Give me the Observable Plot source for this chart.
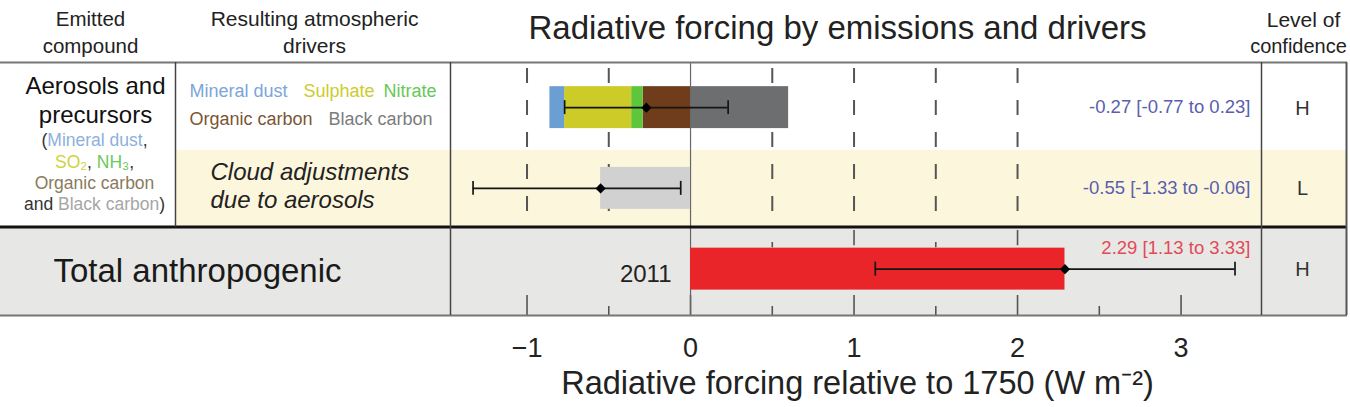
<!DOCTYPE html>
<html>
<head>
<meta charset="utf-8">
<script src="https://cdn.jsdelivr.net/npm/d3@7"></script>
<script src="https://cdn.jsdelivr.net/npm/@observablehq/plot@0.6"></script>
<style>
  html, body { margin: 0; padding: 0; background: #fff; overflow: hidden; }
  svg { display: block; }
</style>
</head>
<body>
<script>
// ---------------- data ----------------
const rows = ["Aerosols and precursors", "Cloud adjustments due to aerosols", "Total anthropogenic"];
const components = ["Mineral dust", "Sulphate", "Nitrate", "Organic carbon", "Black carbon"];
const componentValues = [-0.09, -0.41, -0.07, -0.29, 0.60];
const componentColors = ["#6b9fd4", "#cdcb27", "#5ec63a", "#6f3d1b", "#6d6e6f"];
const singleBarRows = [rows[1], rows[2]];
const singleBarValues = [-0.55, 2.29];
const singleBarColors = ["#d1d1d1", "#ea2529"];
const bestEstimates = [-0.27, -0.55, 2.29];
const lowerBounds = [-0.77, -1.33, 1.13];
const upperBounds = [0.23, -0.06, 3.33];
const confidenceLevels = ["H", "L", "H"];
const yearLabel = "2011";
const xTicks = [-1, 0, 1, 2, 3];
const minorTicks = [-0.5, 0.5, 1.5, 2.5];
const dashedTicks = [-1, -0.5, 0.5, 1, 1.5, 2];
const topMajorTicks = [1, 2];
const topMinorTicks = [0.5, 1.5];
const xDomain = [-1.468, 3.492];
const title = "Radiative forcing by emissions and drivers";
const axisTitle = "Radiative forcing relative to 1750 (W m\u207B\u00B2)";

// ---------------- layout ----------------
const W = 1350, H = 407, ML = 450, MR = 89, MT = 66.75, MB = 98;
const BW = (H - MT - MB) / rows.length;
const FONT = '"Liberation Sans", Arial, Helvetica, sans-serif';

// stacked aerosol components (organic carbon nearest zero)
const stacked = [];
{
  let neg = 0, pos = 0;
  for (let i = components.length - 1; i >= 0; --i) {
    const v = componentValues[i];
    if (v < 0) { stacked.push({row: rows[0], name: components[i], x1: neg, x2: neg + v, color: componentColors[i]}); neg += v; }
    else { stacked.push({row: rows[0], name: components[i], x1: pos, x2: pos + v, color: componentColors[i]}); pos += v; }
  }
}
const singleBars = singleBarRows.map((r, i) => ({row: r, value: singleBarValues[i], color: singleBarColors[i]}));
const errData = rows.map((r, i) => ({row: r, best: bestEstimates[i], lo: lowerBounds[i], hi: upperBounds[i], conf: confidenceLevels[i]}));
const fmt2 = v => v.toFixed(2);
const rangeLabel = d => `${fmt2(d.best)} [${fmt2(d.lo)} to ${fmt2(d.hi)}]`;
const tickFmt = d => (d < 0 ? "\u2212" + Math.abs(d) : String(d));

// annotation helper: absolute placement relative to the frame's top-left
function note(str, cx, baseline, o = {}) {
  return Plot.text([str], {
    text: d => d, frameAnchor: "top-left", dx: cx - ML, dy: baseline - MT,
    lineAnchor: "bottom", textAnchor: "middle", fill: "#222", fontSize: 20, ...o
  });
}
// multi-coloured line, centred on cx
const ctx = document.createElement("canvas").getContext("2d");
function colouredLine(parts, cx, baseline, fs) {
  ctx.font = `${fs}px ${FONT}`;
  const widths = parts.map(p => ctx.measureText(p[0]).width);
  const total = d3.sum(widths);
  let x = cx - total / 2;
  return parts.map((p, i) => {
    const m = note(p[0], x, baseline, {textAnchor: "start", fill: p[1], fontSize: fs});
    x += widths[i];
    return m;
  });
}

const dark = "#333";
const leftLines = [
  ...colouredLine([["(", dark], ["Mineral dust", "#8db0dc"], [",", dark]], 94, 145, 17.5),
  ...colouredLine([["SO\u2082", "#cfd23c"], [", ", dark], ["NH\u2083", "#6cc85e"], [",", dark]], 94, 167, 17.5),
  ...colouredLine([["Organic carbon", "#8a7a5c"]], 94, 188, 17.5),
  ...colouredLine([["and ", dark], ["Black carbon", "#a6a6a6"], [")", dark]], 94, 209, 17.5)
];

const plot = Plot.plot({
  width: W, height: H,
  marginLeft: ML, marginRight: MR, marginTop: MT, marginBottom: MB,
  style: {fontFamily: FONT, background: "#fff", overflow: "visible"},
  x: {domain: xDomain, axis: null},
  y: {type: "band", domain: rows, padding: 0, round: false, axis: null},
  color: {type: "identity"},
  marks: [
    // row backgrounds
    Plot.barX([rows[1]], {y: d => d, x1: () => xDomain[0], x2: () => xDomain[1], fill: "#fcf6dc",
      insetLeft: -275, insetRight: -86, insetTop: 2.5, insetBottom: 2.25}),
    Plot.barX([rows[2]], {y: d => d, x1: () => xDomain[0], x2: () => xDomain[1], fill: "#e7e7e5",
      insetLeft: -450, insetRight: -86, insetTop: -1.25, insetBottom: -6}),
    // dashed guide lines
    Plot.ruleX(dashedTicks, {x: d => d, y1: () => rows[0], y2: () => rows[1], insetTop: 1.25, insetBottom: 16,
      stroke: "#555", strokeWidth: 2, strokeDasharray: "15,17"}),
    // row 3 ticks
    Plot.tickX(xTicks, {x: d => d, y: () => rows[2], insetTop: BW - 14, insetBottom: -6, stroke: "#555", strokeWidth: 1.6}),
    Plot.tickX(minorTicks, {x: d => d, y: () => rows[2], insetTop: BW - 3, insetBottom: -6, stroke: "#555", strokeWidth: 1.6}),
    Plot.tickX(topMajorTicks, {x: d => d, y: () => rows[2], insetTop: 1.75, insetBottom: BW - 17, stroke: "#555", strokeWidth: 1.6}),
    Plot.tickX(topMinorTicks, {x: d => d, y: () => rows[2], insetTop: 13.75, insetBottom: BW - 19, stroke: "#555", strokeWidth: 1.6}),
    // zero line
    Plot.ruleX([0], {x: d => d, y1: () => rows[0], y2: () => rows[2], insetTop: -4.75, insetBottom: -6, stroke: "#666", strokeWidth: 1.2}),
    // bars
    Plot.barX(stacked, {y: "row", x1: "x1", x2: "x2", fill: "color", insetTop: 19.4, insetBottom: 19.4}),
    Plot.barX(singleBars, {y: "row", x1: () => 0, x2: "value", fill: "color", insetTop: 19.4, insetBottom: 19.4}),
    // error bars
    Plot.ruleY(errData, {y: "row", x1: "lo", x2: "hi", stroke: "#151515", strokeWidth: 1.7}),
    Plot.tickX(errData, {x: "lo", y: "row", insetTop: 33.4, insetBottom: 33.4, stroke: "#151515", strokeWidth: 1.7}),
    Plot.tickX(errData, {x: "hi", y: "row", insetTop: 33.4, insetBottom: 33.4, stroke: "#151515", strokeWidth: 1.7}),
    Plot.dot(errData, {x: "best", y: "row", symbol: "diamond2", r: 4.6, fill: "#000", stroke: null}),
    // table lines
    Plot.ruleY([rows[0]], {y: d => d, dy: -BW / 2 - 4.75, insetLeft: -ML, insetRight: -86, stroke: "#777", strokeWidth: 2}),
    Plot.ruleY([rows[2]], {y: d => d, dy: -BW / 2 - 1.75, insetLeft: -ML, insetRight: -86, stroke: "#111", strokeWidth: 3}),
    Plot.ruleY([rows[2]], {y: d => d, dy: BW / 2 + 6, insetLeft: -ML, insetRight: -86, stroke: "#777", strokeWidth: 2}),
    Plot.ruleX([xDomain[0]], {x: d => d, dx: -275, y1: () => rows[0], y2: () => rows[1], insetTop: -4.75, insetBottom: 1.75, stroke: "#444", strokeWidth: 1.5}),
    Plot.ruleX([xDomain[0]], {x: d => d, y1: () => rows[0], y2: () => rows[2], insetTop: -4.75, insetBottom: -6, stroke: "#444", strokeWidth: 1.5}),
    Plot.ruleX([xDomain[1]], {x: d => d, y1: () => rows[0], y2: () => rows[2], insetTop: -4.75, insetBottom: -6, stroke: "#444", strokeWidth: 1.5}),
    Plot.ruleX([xDomain[1]], {x: d => d, dx: 85, y1: () => rows[0], y2: () => rows[2], insetTop: -4.75, insetBottom: -6, stroke: "#555", strokeWidth: 2}),
    // value labels and confidence
    Plot.text(errData.slice(0, 2), {y: "row", frameAnchor: "right", dx: -11, dy: 5.5, textAnchor: "end", lineAnchor: "bottom",
      text: rangeLabel, fill: "#5a5eae", fontSize: 18.5}),
    Plot.text(errData.slice(2), {y: "row", frameAnchor: "right", dx: -11, dy: -15.6, textAnchor: "end", lineAnchor: "bottom",
      text: rangeLabel, fill: "#e24a57", fontSize: 18.5}),
    Plot.text(errData, {y: "row", frameAnchor: "right", dx: 41, dy: 7, textAnchor: "middle", lineAnchor: "bottom",
      text: "conf", fill: "#333", fontSize: 20}),
    Plot.text([yearLabel], {x: () => 0, y: () => rows[2], dx: -19, dy: 13, textAnchor: "end", lineAnchor: "bottom",
      text: d => d, fill: "#222", fontSize: 24}),
    // x axis tick labels and title
    Plot.text(xTicks, {x: d => d, frameAnchor: "bottom", dy: 47, lineAnchor: "bottom", text: tickFmt, fill: "#222", fontSize: 27}),
    note(axisTitle, 857, 393, {fontSize: 32.5}),
    // headers
    note(title, 837, 38, {fontSize: 33}),
    note("Emitted", 90, 25, {fontSize: 20.5}),
    note("compound", 90, 52, {fontSize: 20.5}),
    note("Resulting atmospheric", 314, 25, {fontSize: 21}),
    note("drivers", 314, 52, {fontSize: 21}),
    note("Level of", 1303, 26, {fontSize: 21}),
    note("confidence", 1298, 52, {fontSize: 20}),
    // row labels
    note("Aerosols and", 95, 93, {fontSize: 24, fill: "#111"}),
    note("precursors", 95, 122, {fontSize: 24, fill: "#111"}),
    ...leftLines,
    note("Mineral dust", 189, 96, {textAnchor: "start", fontSize: 18, fill: "#7aa6da"}),
    note("Sulphate", 303, 96, {textAnchor: "start", fontSize: 18, fill: "#cccc2e"}),
    note("Nitrate", 383, 96, {textAnchor: "start", fontSize: 18, fill: "#66c856"}),
    note("Organic carbon", 189, 124, {textAnchor: "start", fontSize: 18, fill: "#7a5634"}),
    note("Black carbon", 328, 124, {textAnchor: "start", fontSize: 18, fill: "#7c7c7c"}),
    note("Cloud adjustments", 210, 179, {textAnchor: "start", fontSize: 24, fontStyle: "italic", fill: "#222"}),
    note("due to aerosols", 210, 207, {textAnchor: "start", fontSize: 24, fontStyle: "italic", fill: "#222"}),
    note("Total anthropogenic", 53, 281, {textAnchor: "start", fontSize: 33, fill: "#1a1a1a"})
  ]
});
document.body.appendChild(plot);
</script>
</body>
</html>
